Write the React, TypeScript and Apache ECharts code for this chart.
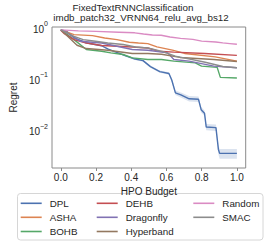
import React, { useEffect, useRef } from "react";
import * as echarts from "echarts";

const xTicks = [0, 0.2, 0.4, 0.6, 0.8, 1.0];
const yTickPowers = [-2, -1, 0];

const dpl = [[0,0.89],[0.033,0.822],[0.075,0.615],[0.143,0.493],[0.232,0.431],[0.269,0.369],[0.321,0.316],[0.373,0.27],[0.415,0.241],[0.467,0.221],[0.509,0.169],[0.562,0.135],[0.614,0.124],[0.63,0.0927],[0.651,0.052],[0.682,0.0475],[0.729,0.0398],[0.782,0.0389],[0.797,0.0244],[0.816,0.0209],[0.826,0.0112],[0.881,0.0109],[0.895,0.0041],[0.902,0.00343],[1.0,0.00343]];
const dplHigh = [0.91,0.84,0.64,0.51,0.445,0.382,0.328,0.281,0.251,0.231,0.177,0.142,0.131,0.1,0.058,0.053,0.045,0.044,0.0275,0.0236,0.0128,0.0125,0.005,0.0042,0.0042];
const dplLow = [0.87,0.8,0.59,0.475,0.417,0.356,0.304,0.259,0.231,0.211,0.161,0.128,0.117,0.086,0.047,0.042,0.0352,0.0344,0.0216,0.0185,0.0097,0.0094,0.0033,0.0027,0.0027];
const asha = [[0,0.88],[0.075,0.71],[0.18,0.68],[0.249,0.61],[0.319,0.568],[0.389,0.504],[0.441,0.488],[0.494,0.475],[0.546,0.41],[0.634,0.353],[0.703,0.305],[0.877,0.262],[1.0,0.216]];
const bohb = [[0,0.88],[0.075,0.568],[0.145,0.364],[0.232,0.337],[0.284,0.313],[0.354,0.291],[0.406,0.25],[0.494,0.233],[0.572,0.233],[0.642,0.216],[0.764,0.2],[0.799,0.173],[0.888,0.163],[0.906,0.104],[1.0,0.101]];
const dehb = [[0,0.86],[0.02,0.74],[0.075,0.568],[0.145,0.488],[0.232,0.435],[0.319,0.421],[0.406,0.408],[0.494,0.39],[0.555,0.337],[0.642,0.323],[0.817,0.305],[1.0,0.28]];
const dragonfly = [[0,0.88],[0.04,0.76],[0.11,0.527],[0.232,0.488],[0.319,0.421],[0.406,0.364],[0.494,0.353],[0.607,0.313],[0.642,0.233],[0.729,0.216],[0.869,0.173],[1.0,0.16]];
const hyperband = [[0,0.88],[0.058,0.568],[0.092,0.441],[0.145,0.38],[0.267,0.353],[0.406,0.305],[0.494,0.305],[0.572,0.295],[0.677,0.255],[0.869,0.233],[1.0,0.212]];
const random = [[0,0.88],[0.1,0.84],[0.2,0.82],[0.33,0.79],[0.42,0.77],[0.47,0.73],[0.52,0.7],[0.57,0.69],[0.62,0.64],[0.68,0.6],[0.75,0.575],[0.8,0.53],[0.88,0.51],[0.92,0.49],[0.96,0.475],[1.0,0.46]];
const smac = [[0,0.88],[0.075,0.658],[0.127,0.568],[0.197,0.527],[0.267,0.488],[0.354,0.455],[0.424,0.408],[0.494,0.39],[0.58,0.33],[0.65,0.27],[0.82,0.205],[0.92,0.17],[1.0,0.16]];

const seriesNames = ["DPL", "ASHA", "BOHB", "DEHB", "Dragonfly", "Hyperband", "Random", "SMAC"];
const seriesData = [dpl, asha, bohb, dehb, dragonfly, hyperband, random, smac];
const colors = ["#4C72B0", "#DD8452", "#55A868", "#C44E52", "#8172B3", "#937860", "#DA8BC3", "#8C8C8C"];

const FONT = "'Liberation Sans', Arial, sans-serif";
const TXT = "#262626";

export default function App() {
  const ref = useRef<HTMLDivElement>(null);
  useEffect(() => {
    const chart = echarts.init(ref.current!, null, { renderer: "svg" });
    const bandData = dpl.map((p, i) => [p[0], dplLow[i], dplHigh[i]]);

    const legendCols = [20.7, 96.7, 193.3];
    const legendRows = [203.3, 217.3, 231.5];
    const legends = seriesNames.map((name, i) => {
      const col = Math.floor(i / 3);
      const row = i % 3;
      return {
        data: [name],
        left: legendCols[col],
        top: legendRows[row] - 6,
        padding: 0,
        itemWidth: 21,
        itemHeight: 1.6,
        icon: "rect",
        selectedMode: false,
        textStyle: { fontFamily: FONT, fontSize: 9.8, color: TXT, padding: [0, 0, 0, 3], lineHeight: 12 },
      };
    });

    const option: any = {
      animation: false,
      grid: { left: 36, top: 27, width: 209.7, height: 141, show: true, borderColor: "#8a8a8a", borderWidth: 1, backgroundColor: "transparent" },
      xAxis: {
        type: "value",
        min: -0.05,
        max: 1.05,
        name: "HPO Budget",
        nameLocation: "middle",
        nameGap: 14,
        nameTextStyle: { fontFamily: FONT, fontSize: 10, color: TXT },
        axisLine: { show: false },
        splitLine: { show: false },
        axisTick: { show: true, length: 3, lineStyle: { color: "#8a8a8a" }, customValues: xTicks },
        axisLabel: { customValues: xTicks, fontFamily: FONT, fontSize: 10, color: TXT, margin: 4, formatter: (v: number) => v.toFixed(1) },
      },
      yAxis: {
        type: "log",
        logBase: 10,
        min: 0.00178,
        max: 1,
        name: "Regret",
        nameLocation: "middle",
        nameGap: 25,
        nameTextStyle: { fontFamily: FONT, fontSize: 10, color: TXT },
        axisLine: { show: false },
        splitLine: { show: false },
        minorTick: { show: false },
        axisTick: { show: false },
        axisLabel: {
          fontFamily: FONT,
          fontSize: 10,
          color: TXT,
          margin: 4,
          showMinLabel: true,
          formatter: (v: number) => {
            const lg = Math.log10(v);
            const e = Math.round(lg);
            if (Math.abs(lg - e) > 1e-6 || !yTickPowers.includes(e)) return "";
            const exp = e < 0 ? "\u2212" + Math.abs(e) : String(e);
            return "{b|10}{s|" + exp + "}";
          },
          rich: {
            b: { fontFamily: FONT, fontSize: 10, color: TXT, lineHeight: 14, verticalAlign: "bottom" },
            s: { fontFamily: FONT, fontSize: 7, color: TXT, lineHeight: 14, verticalAlign: "top" },
          },
        },
      },
      legend: legends,
      graphic: [
        { type: "text", left: "center", x: 0, style: { text: "FixedTextRNNClassification", x: 141, y: 7, textAlign: "center", textVerticalAlign: "middle", fontFamily: FONT, fontSize: 9.8, fill: TXT } },
        { type: "text", style: { text: "imdb_patch32_VRNN64_relu_avg_bs12", x: 141, y: 17, textAlign: "center", textVerticalAlign: "middle", fontFamily: FONT, fontSize: 9.8, fill: TXT } },
        { type: "rect", shape: { x: 17.5, y: 193.5, width: 245.5, height: 46.5, r: 3 }, style: { fill: "#fff", stroke: "#d6d6d6", lineWidth: 1 }, z: -1 },
      ],
      series: [
        {
          type: "custom",
          name: "DPL band",
          data: bandData,
          encode: { x: 0, y: [1, 2] },
          silent: true,
          z: 1,
          renderItem: (params: any, api: any) => {
            if (params.dataIndex !== 0) return null;
            const top = bandData.map((d) => api.coord([d[0], d[2]]));
            const bot = bandData.slice().reverse().map((d) => api.coord([d[0], d[1]]));
            return {
              type: "polygon",
              shape: { points: top.concat(bot) },
              style: { fill: colors[0], opacity: 0.2 },
            };
          },
        },
        ...seriesNames.map((name, i) => ({
          type: "line",
          name,
          data: seriesData[i],
          showSymbol: false,
          symbol: "none",
          z: 2,
          lineStyle: { color: colors[i], width: 1.4 },
          itemStyle: { color: colors[i] },
        })),
      ],
    };
    chart.setOption(option);
    return () => chart.dispose();
  }, []);
  return <div ref={ref} style={{ position: "fixed", left: 0, top: 0, width: 266, height: 243, background: "#fff" }} />;
}
